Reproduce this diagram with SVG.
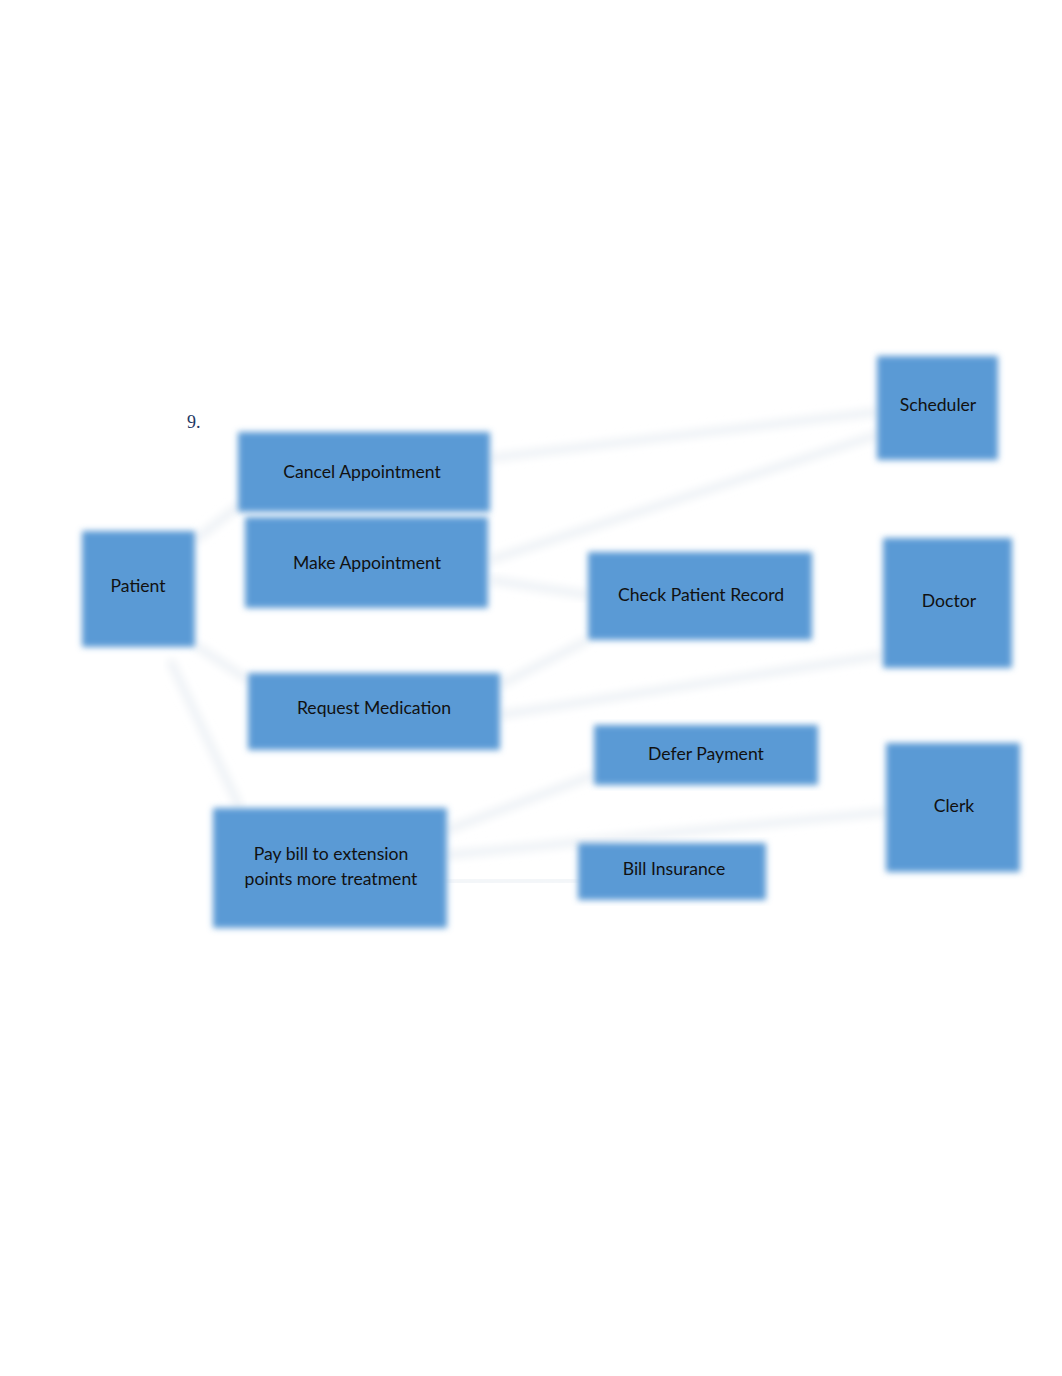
<svg xmlns="http://www.w3.org/2000/svg" width="1062" height="1376" viewBox="0 0 1062 1376">
<defs>
<filter id="soft" x="-10%" y="-10%" width="120%" height="120%"><feGaussianBlur stdDeviation="3"/></filter>
<filter id="softer" x="-10%" y="-50%" width="120%" height="200%"><feGaussianBlur stdDeviation="4"/></filter>
<style>
.box{fill:#5A9AD5;filter:url(#soft)}
.lbl{font-family:Lato,"Open Sans","Liberation Sans",sans-serif;font-size:17.6px;fill:#111;text-anchor:middle}
.con{stroke:#EDF1F5;stroke-width:8;fill:none;filter:url(#softer)}
</style>
</defs>
<rect width="1062" height="1376" fill="#fff"/>
<text x="187" y="428" font-family="Liberation Serif,serif" font-size="18" fill="#1F3864">9.</text>
<g id="connectors">
<line class="con" x1="490" y1="458" x2="877" y2="412"/>
<line class="con" x1="490" y1="560" x2="877" y2="435"/>
<line class="con" x1="490" y1="580" x2="588" y2="595"/>
<line class="con" x1="500" y1="685" x2="588" y2="640"/>
<line class="con" x1="500" y1="715" x2="883" y2="655"/>
<line class="con" x1="447" y1="830" x2="594" y2="775"/>
<line class="con" x1="447" y1="855" x2="886" y2="812"/>
<line class="con" x1="447" y1="882" x2="578" y2="880"/>
<line class="con" x1="195" y1="540" x2="240" y2="505"/>
<line class="con" x1="195" y1="575" x2="245" y2="575"/>
<line class="con" x1="195" y1="645" x2="248" y2="680"/>
<line class="con" x1="170" y1="660" x2="240" y2="808"/>
</g>
<g id="patient"><rect class="box" x="82" y="531" width="113" height="116"/><text class="lbl" x="138" y="592">Patient</text></g>
<g id="cancel-appointment"><rect class="box" x="238" y="432" width="252" height="80"/><text class="lbl" x="362" y="478">Cancel Appointment</text></g>
<g id="make-appointment"><rect class="box" x="245" y="517" width="243" height="91"/><text class="lbl" x="367" y="569">Make Appointment</text></g>
<g id="scheduler"><rect class="box" x="877" y="356" width="121" height="104"/><text class="lbl" x="938" y="411">Scheduler</text></g>
<g id="check-patient-record"><rect class="box" x="588" y="552" width="224" height="88"/><text class="lbl" x="701" y="601">Check Patient Record</text></g>
<g id="doctor"><rect class="box" x="883" y="538" width="129" height="130"/><text class="lbl" x="949" y="607">Doctor</text></g>
<g id="request-medication"><rect class="box" x="248" y="673" width="252" height="77"/><text class="lbl" x="374" y="714">Request Medication</text></g>
<g id="defer-payment"><rect class="box" x="594" y="725" width="224" height="60"/><text class="lbl" x="706" y="760">Defer Payment</text></g>
<g id="clerk"><rect class="box" x="886" y="743" width="134" height="129"/><text class="lbl" x="954" y="812">Clerk</text></g>
<g id="pay-bill"><rect class="box" x="213" y="808" width="234" height="120"/><text class="lbl" x="331" y="860">Pay bill to extension</text><text class="lbl" x="331" y="885">points more treatment</text></g>
<g id="bill-insurance"><rect class="box" x="578" y="843" width="188" height="57"/><text class="lbl" x="674" y="875">Bill Insurance</text></g>
</svg>
